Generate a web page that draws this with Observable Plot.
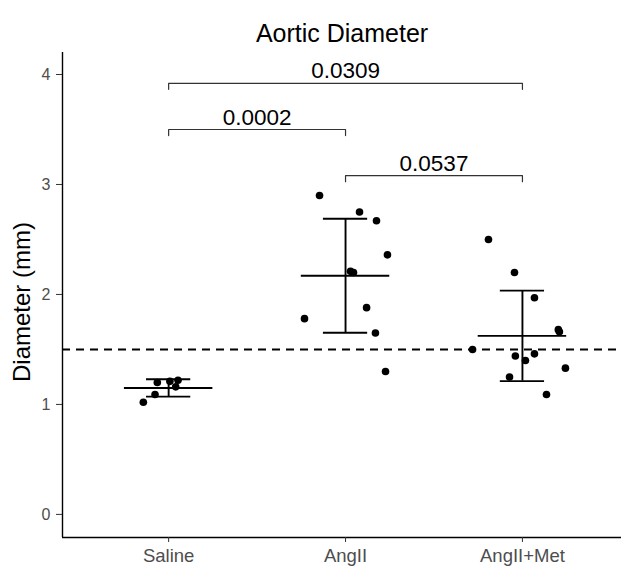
<!DOCTYPE html>
<html>
<head>
<meta charset="utf-8">
<script src="https://cdn.jsdelivr.net/npm/d3@7"></script>
<script src="https://cdn.jsdelivr.net/npm/@observablehq/plot@0.6"></script>
<style>
  html, body { margin: 0; padding: 0; background: #fff; }
  svg { display: block; }
</style>
</head>
<body>
<div id="chart"></div>
<script>
const groups = ["Saline", "AngII", "AngII+Met"];
const salineValues = [1.02, 1.09, 1.20, 1.21, 1.22, 1.16];
const salineJitter = [-0.143, -0.077, -0.064, 0.007, 0.053, 0.040];
const angiiValues = [2.90, 2.75, 2.67, 2.36, 2.21, 2.20, 1.88, 1.78, 1.65, 1.30];
const angiiJitter = [-0.147, 0.079, 0.175, 0.237, 0.028, 0.045, 0.119, -0.232, 0.169, 0.226];
const metValues = [2.50, 2.20, 1.97, 1.68, 1.66, 1.50, 1.44, 1.40, 1.46, 1.25, 1.33, 1.09];
const metJitter = [-0.192, -0.045, 0.068, 0.203, 0.209, -0.282, -0.040, 0.017, 0.068, -0.073, 0.243, 0.136];
const thresholdLine = [1.5];
const yTicks = [0, 1, 2, 3, 4];
const bracketFrom = [1, 1, 2];
const bracketTo = [2, 3, 3];
const bracketY = [3.50, 3.92, 3.08];
const bracketLabels = ["0.0002", "0.0309", "0.0537"];
const titleText = "Aortic Diameter";
const yLabelText = "Diameter (mm)";

const valueSets = [salineValues, angiiValues, metValues];
const jitterSets = [salineJitter, angiiJitter, metJitter];
const points = valueSets.flatMap((vals, g) =>
  vals.map((v, i) => ({g: g + 1, x: g + 1 + jitterSets[g][i], y: v})));
const stats = valueSets.map((vals, g) => {
  const m = d3.mean(vals), s = d3.deviation(vals);
  return {g: g + 1, mean: m, lo: m - s, hi: m + s};
});
const tip = 0.055;
const bracketPaths = bracketFrom.flatMap((a, i) => [
  {k: i, x: a, y: bracketY[i] - tip},
  {k: i, x: a, y: bracketY[i]},
  {k: i, x: bracketTo[i], y: bracketY[i]},
  {k: i, x: bracketTo[i], y: bracketY[i] - tip}
]);
const bracketText = bracketLabels.map((l, i) => ({x: (bracketFrom[i] + bracketTo[i]) / 2, y: bracketY[i], label: l}));

const xDom = [0.4, 3.56];
const yDom = [-0.21, 4.2];
const font = "'Liberation Sans', Arial, Helvetica, sans-serif";

const chart = Plot.plot({
  width: 621,
  height: 566,
  marginLeft: 62,
  marginRight: 0,
  marginTop: 52,
  marginBottom: 29,
  style: {fontFamily: font, background: "#fff", overflow: "visible"},
  x: {domain: xDom, axis: null},
  y: {domain: yDom, axis: null},
  marks: [
    Plot.ruleY(thresholdLine, {stroke: "#000", strokeWidth: 1.9, strokeDasharray: "8,6"}),
    Plot.dot(points, {x: "x", y: "y", r: 3.8, fill: "#000", stroke: "none"}),
    Plot.ruleX(stats, {x: "g", y1: "lo", y2: "hi", stroke: "#000", strokeWidth: 1.9}),
    Plot.ruleY(stats, {y: "mean", x1: d => d.g - 0.25, x2: d => d.g + 0.25, stroke: "#000", strokeWidth: 1.9}),
    Plot.ruleY(stats, {y: "hi", x1: d => d.g - 0.125, x2: d => d.g + 0.125, stroke: "#000", strokeWidth: 1.9}),
    Plot.ruleY(stats, {y: "lo", x1: d => d.g - 0.125, x2: d => d.g + 0.125, stroke: "#000", strokeWidth: 1.9}),
    Plot.line(bracketPaths, {x: "x", y: "y", z: "k", stroke: "#333", strokeWidth: 1.2, curve: "linear"}),
    Plot.text(bracketText, {x: "x", y: "y", text: "label", dy: -12, fontSize: 22.5, fill: "#000", lineAnchor: "middle"}),
    Plot.ruleX([xDom[0]], {stroke: "#000", strokeWidth: 1.4}),
    Plot.ruleY([yDom[0]], {stroke: "#000", strokeWidth: 1.4}),
    Plot.axisY({ticks: yTicks, tickSize: 6, tickPadding: 6, fontSize: 16, color: "#4d4d4d", stroke: "#333", label: null, tickFormat: d3.format("d")}),
    Plot.axisX({ticks: [1, 2, 3], tickSize: 5, tickPadding: 6, fontSize: 18.5, color: "#4d4d4d", stroke: "#333", label: null, tickFormat: d => groups[d - 1]}),
    Plot.text([titleText], {frameAnchor: "top", text: d => d, dy: -19, fontSize: 25, fill: "#000", textAnchor: "middle", lineAnchor: "middle"}),
    Plot.text([yLabelText], {frameAnchor: "left", text: d => d, rotate: -90, dx: -40, dy: 7, fontSize: 24, fill: "#000", textAnchor: "middle", lineAnchor: "middle"})
  ]
});
document.getElementById("chart").appendChild(chart);
</script>
</body>
</html>
